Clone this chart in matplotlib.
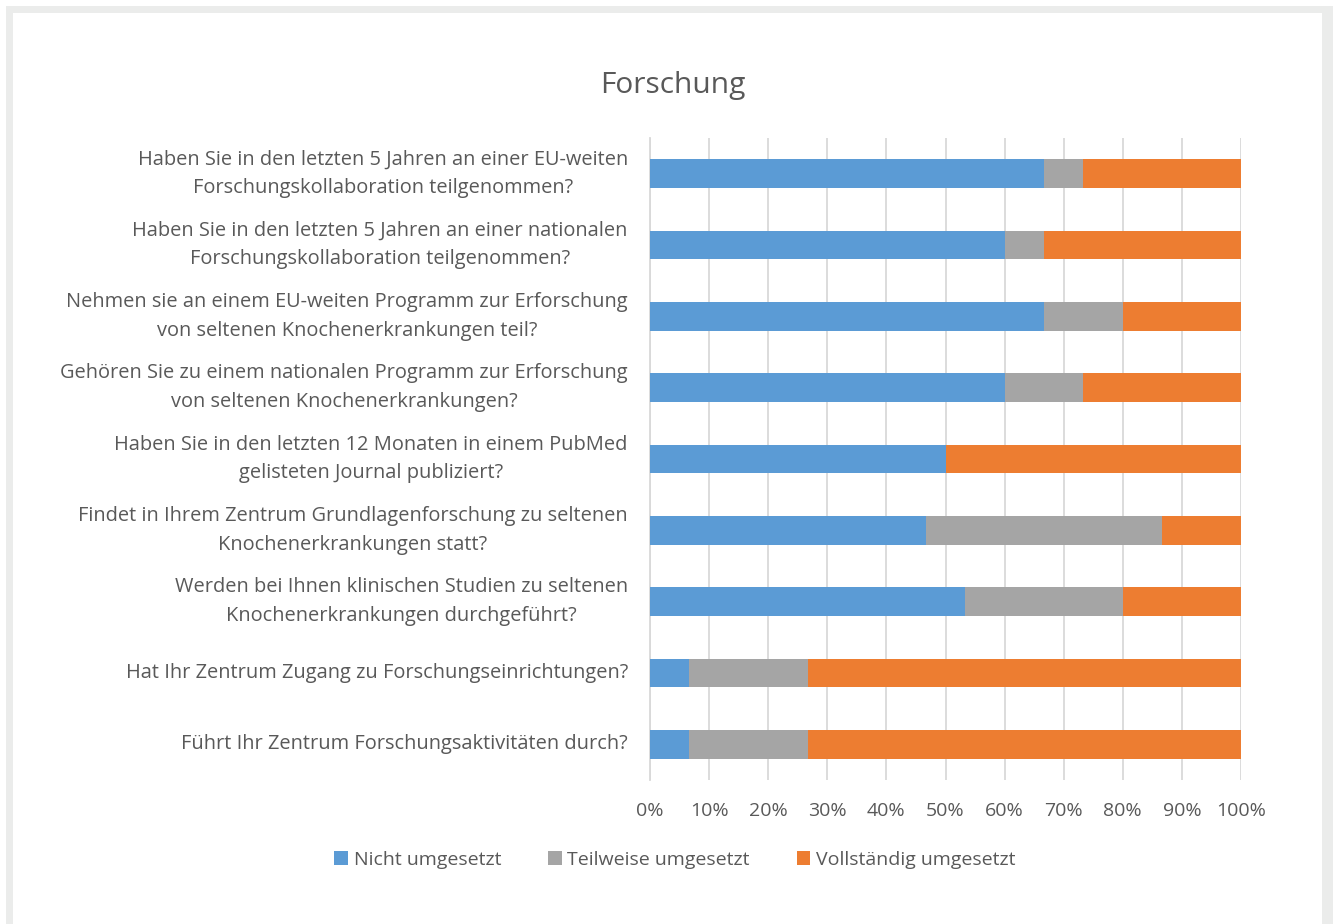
import matplotlib.pyplot as plt
from matplotlib.patches import Rectangle

fragen = [
    "Haben Sie in den letzten 5 Jahren an einer EU-weiten\nForschungskollaboration teilgenommen?",
    "Haben Sie in den letzten 5 Jahren an einer nationalen\nForschungskollaboration teilgenommen?",
    "Nehmen sie an einem EU-weiten Programm zur Erforschung\nvon seltenen Knochenerkrankungen teil?",
    "Gehören Sie zu einem nationalen Programm zur Erforschung\nvon seltenen Knochenerkrankungen?",
    "Haben Sie in den letzten 12 Monaten in einem PubMed\ngelisteten Journal publiziert?",
    "Findet in Ihrem Zentrum Grundlagenforschung zu seltenen\nKnochenerkrankungen statt?",
    "Werden bei Ihnen klinischen Studien zu seltenen\nKnochenerkrankungen durchgeführt?",
    "Hat Ihr Zentrum Zugang zu Forschungseinrichtungen?",
    "Führt Ihr Zentrum Forschungsaktivitäten durch?",
]
nicht = [66.67, 60.0, 66.67, 60.0, 50.0, 46.67, 53.33, 6.67, 6.67]
teilweise = [6.67, 6.67, 13.33, 13.33, 0.0, 40.0, 26.67, 20.0, 20.0]
vollstaendig = [26.67, 33.33, 20.0, 26.67, 50.0, 13.33, 20.0, 73.33, 73.33]
xticks = [0, 10, 20, 30, 40, 50, 60, 70, 80, 90, 100]

plt.rcParams['font.family'] = ['Open Sans', 'DejaVu Sans']
textfarbe = '#595959'

fig = plt.figure(figsize=(13.33, 9.24), dpi=100)
# grauer Rahmen
fig.patches.append(Rectangle((6 / 1333, 0), 1 - 6 / 1333, 1 - 6 / 924, transform=fig.transFigure,
                             facecolor='#ebeceb', edgecolor='none', zorder=-10))
fig.patches.append(Rectangle((13 / 1333, 0), (1322 - 13) / 1333, 1 - 13 / 924, transform=fig.transFigure,
                             facecolor='white', edgecolor='none', zorder=-9))

ax = fig.add_axes([650 / 1333, 1 - 780 / 924, (1241 - 650) / 1333, (780 - 138) / 924])
ax.set_facecolor('none')

y = list(range(len(fragen)))
links2 = [a + b for a, b in zip(nicht, teilweise)]
h = 0.4
ax.barh(y, nicht, height=h, color='#5b9bd5', label='Nicht umgesetzt', zorder=3)
ax.barh(y, teilweise, left=nicht, height=h, color='#a5a5a5', label='Teilweise umgesetzt', zorder=3)
ax.barh(y, vollstaendig, left=links2, height=h, color='#ed7d31', label='Vollständig umgesetzt', zorder=3)

ax.set_ylim(len(fragen) - 0.5, -0.5)
ax.set_xlim(0, 100)
ax.set_xticks(xticks)
ax.set_xticklabels([f"{t}%" for t in xticks])
ax.set_yticks(y)
ax.set_yticklabels(fragen)
for t in ax.get_yticklabels():
    t.set_multialignment('center')
    t.set_linespacing(1.58)
    t.set_verticalalignment('center')

ax.tick_params(axis='both', length=0, labelcolor=textfarbe)
ax.tick_params(axis='y', pad=16, labelsize=14.4)
ax.tick_params(axis='x', pad=16, labelsize=14)
ax.grid(axis='x', color='#d9d9d9', linewidth=1.3, zorder=0)
for s in ['top', 'right', 'bottom']:
    ax.spines[s].set_visible(False)
ax.spines['left'].set_color('#d9d9d9')
ax.spines['left'].set_linewidth(1.3)

fig.text(673 / 1333, 1 - 85 / 924, 'Forschung', ha='center', va='center', fontsize=21.5, color=textfarbe)

fig.legend(loc='center', bbox_to_anchor=(675 / 1333, 1 - 860 / 924), ncol=3, frameon=False,
           fontsize=14, labelcolor=textfarbe, handlelength=0.7, handleheight=0.7,
           handletextpad=0.3, columnspacing=2.4)

fig.savefig('out.png', dpi=100)
